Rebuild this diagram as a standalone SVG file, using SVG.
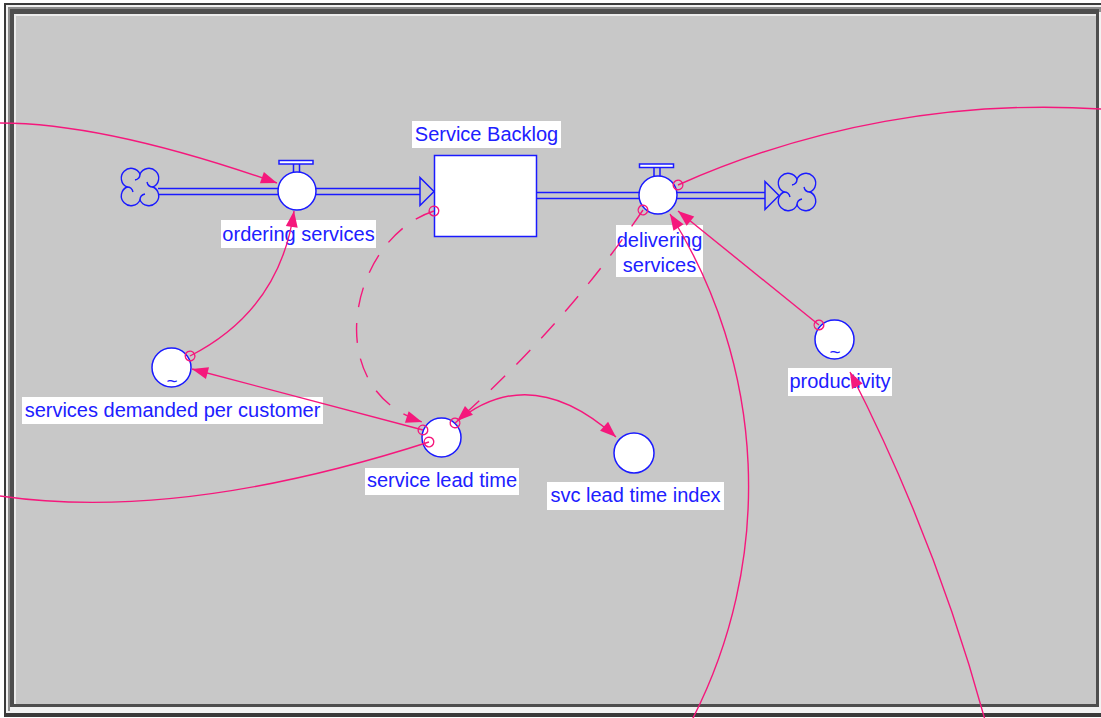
<svg xmlns="http://www.w3.org/2000/svg" width="1101" height="718" viewBox="0 0 1101 718">
  <style>
    .lbl { font-family: "Liberation Sans", Arial, sans-serif; font-size: 20px; fill: #2020ff; text-anchor: middle; }
    .lbg { fill: #ffffff; stroke: none; }
    .shape { fill: #ffffff; stroke: #1a1aff; stroke-width: 1.5; }
    .pipe { fill: none; stroke: #1a1aff; stroke-width: 1.5; }
    .cloud { fill: none; stroke: #1a1aff; stroke-width: 1.4; }
    .link { fill: none; stroke: #f5187c; stroke-width: 1.4; }
    .dash { stroke-dasharray: 20 16; }
    .tilde { font-family: "Liberation Sans", Arial, sans-serif; font-size: 19px; fill: #2020ff; text-anchor: middle; }
  </style>
  <defs>
    <marker id="arrow" markerUnits="userSpaceOnUse" markerWidth="16" markerHeight="12" refX="16" refY="6" orient="auto" overflow="visible">
      <path d="M0,0 L16,6 L0,12 Z" fill="#f5187c" stroke="none"/>
    </marker>
    <marker id="tail" markerUnits="userSpaceOnUse" markerWidth="10" markerHeight="10" refX="5" refY="5" orient="auto" overflow="visible">
      <circle cx="5" cy="5" r="4.8" fill="none" stroke="#f5187c" stroke-width="1.4"/>
    </marker>
    <g id="cloudShape" class="cloud">
      <path d="M0,-13 A9.8,9.8 0 1 1 13,0 A9.8,9.8 0 1 1 0,13 A9.8,9.8 0 1 1 -13,0 A9.8,9.8 0 1 1 0,-13 Z"/>
      <path d="M0,-13 q0,5 -5,6 M13,0 q-5,0 -6,-5 M0,13 q0,-5 5,-6 M-13,0 q5,0 6,5"/>
    </g>
  </defs>

  <!-- window frame -->
  <g id="frame">
    <rect x="0" y="0" width="1101" height="718" fill="#ffffff"/>
    <rect x="4" y="3" width="1097" height="714" fill="#3a3a3a"/>
    <rect x="6" y="5" width="1095" height="708" fill="#f2f2f2"/>
    <rect x="8" y="7" width="1093" height="5" fill="#8c8c8c"/>
    <rect x="8" y="7" width="2" height="704" fill="#8c8c8c"/>
    <rect x="10" y="9" width="1089" height="698" fill="#4e4e4e"/>
    <rect x="14" y="14" width="1082" height="690" fill="#ececec"/>
    <rect x="16" y="16" width="1080" height="688" fill="#c8c8c8"/>
  </g>

  <!-- flow pipes and clouds -->
  <g id="pipes">
    <use href="#cloudShape" x="140" y="187"/>
    <line class="pipe" x1="158" y1="188.5" x2="420" y2="188.5"/>
    <line class="pipe" x1="158" y1="194.5" x2="420" y2="194.5"/>
    <path class="pipe" d="M420,177.5 L434,191.5 L420,205.5 Z"/>
    <line class="pipe" x1="537" y1="192.5" x2="765" y2="192.5"/>
    <line class="pipe" x1="537" y1="198.5" x2="765" y2="198.5"/>
    <path class="pipe" d="M765,181.5 L779,195.5 L765,209.5 Z"/>
    <use href="#cloudShape" x="797" y="192"/>
  </g>

  <g id="service-backlog">
    <rect class="shape" x="434.5" y="155.5" width="102" height="81"/>
    <rect class="lbg" x="412" y="121" width="149" height="27"/>
    <text class="lbl" x="486.5" y="141">Service Backlog</text>
  </g>

  <g id="ordering-services">
    <rect class="shape" x="279" y="160.5" width="34" height="3.5"/>
    <path class="pipe" d="M293.5,164 V172.5 M299.5,164 V172.5"/>
    <circle class="shape" cx="297" cy="191" r="19"/>
    <rect class="lbg" x="221" y="220" width="155" height="28"/>
    <text class="lbl" x="298.5" y="241">ordering services</text>
  </g>

  <g id="delivering-services">
    <rect class="shape" x="639.5" y="164" width="34" height="3.5"/>
    <path class="pipe" d="M654,167.5 V176.5 M660,167.5 V176.5"/>
    <circle class="shape" cx="658" cy="195" r="19"/>
    <rect class="lbg" x="616" y="225" width="87" height="52"/>
    <text class="lbl" x="659.5" y="247">delivering</text>
    <text class="lbl" x="659.5" y="272">services</text>
  </g>

  <g id="services-demanded-per-customer">
    <circle class="shape" cx="171.5" cy="367.5" r="19.5"/>
    <text class="tilde" x="172" y="387">~</text>
    <rect class="lbg" x="22" y="397" width="301" height="27"/>
    <text class="lbl" x="172.5" y="417">services demanded per customer</text>
  </g>

  <g id="service-lead-time">
    <circle class="shape" cx="441.5" cy="437.5" r="19.5"/>
    <rect class="lbg" x="365" y="468" width="154" height="27"/>
    <text class="lbl" x="442" y="487">service lead time</text>
  </g>

  <g id="svc-lead-time-index">
    <circle class="shape" cx="634" cy="453" r="20"/>
    <rect class="lbg" x="547" y="482" width="177" height="28"/>
    <text class="lbl" x="635.5" y="502">svc lead time index</text>
  </g>

  <g id="productivity">
    <circle class="shape" cx="834.5" cy="339.5" r="19.5"/>
    <text class="tilde" x="835" y="358">~</text>
    <rect class="lbg" x="788" y="368" width="104" height="28"/>
    <text class="lbl" x="840" y="388">productivity</text>
  </g>

  <!-- influence connectors -->
  <g id="connectors">
    <path class="link" d="M0,123 Q106,123 277,183" marker-end="url(#arrow)"/>
    <path class="link" d="M190,356 Q280,310 294,211" marker-start="url(#tail)" marker-end="url(#arrow)"/>
    <path class="link dash" d="M434,211 C350,238 318,388 422,422" marker-start="url(#tail)" marker-end="url(#arrow)"/>
    <path class="link dash" d="M643,210 Q565,325 457,421" marker-start="url(#tail)" marker-end="url(#arrow)"/>
    <path class="link" d="M423,430 L192,369" marker-start="url(#tail)" marker-end="url(#arrow)"/>
    <path class="link" d="M429,442 Q180,522 0,496" marker-start="url(#tail)"/>
    <path class="link" d="M455,423 Q530,360 616,437" marker-start="url(#tail)" marker-end="url(#arrow)"/>
    <path class="link" d="M678,185 A900,900 0 0 1 1101,109" marker-start="url(#tail)"/>
    <path class="link" d="M692,720 A511,511 0 0 0 670,214" marker-end="url(#arrow)"/>
    <path class="link" d="M985,720 A1800,1800 0 0 0 850,372" marker-end="url(#arrow)"/>
    <path class="link" d="M819,325 L678,211" marker-start="url(#tail)" marker-end="url(#arrow)"/>
  </g>
</svg>
